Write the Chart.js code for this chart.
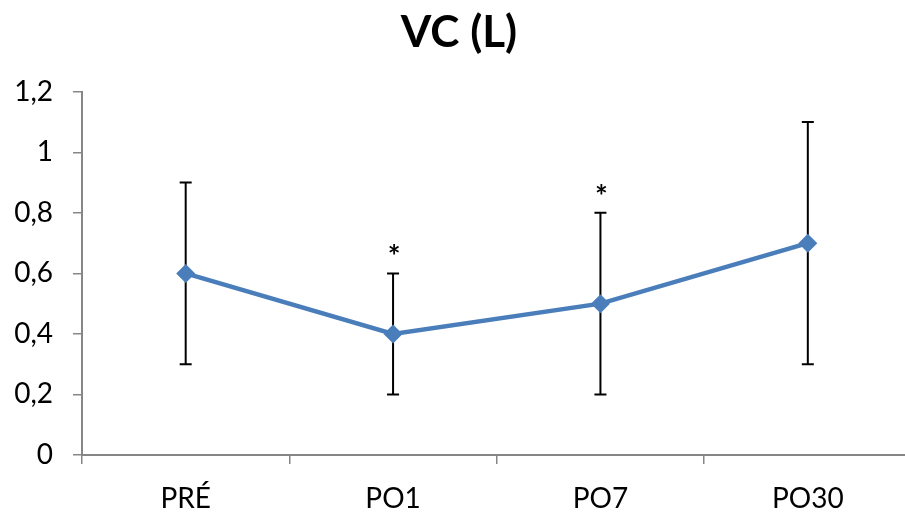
<!DOCTYPE html>
<html>
<head>
<meta charset="utf-8">
<script src="https://cdn.jsdelivr.net/npm/chart.js@4/dist/chart.umd.min.js"></script>
<style>
  html, body { margin: 0; padding: 0; background: #fff; overflow: hidden; }
  #wrap { width: 921px; height: 521px; }
</style>
</head>
<body>
<div id="wrap"><canvas id="c" width="921" height="521"></canvas></div>
<script>
// Vital capacity (L) across the follow-up visits
const categories = ['PRÉ', 'PO1', 'PO7', 'PO30'];
const meanValues = [0.6, 0.4, 0.5, 0.7];
const lowerValues = [0.3, 0.2, 0.2, 0.3];
const upperValues = [0.9, 0.6, 0.8, 1.1];
const significant = [false, true, true, false];
const yTickValues = [0, 0.2, 0.4, 0.6, 0.8, 1, 1.2];

const FONT = 'Lato, Carlito, Calibri, sans-serif';
const AXIS_GREY = '#868686';

// Whiskers with caps, drawn under the line so the markers sit on top
const errorBars = {
  id: 'errorBars',
  beforeDatasetsDraw(chart) {
    const { ctx, scales: { x, y } } = chart;
    ctx.save();
    ctx.strokeStyle = '#000';
    ctx.lineWidth = 2;
    categories.forEach((c, i) => {
      const px = x.getPixelForValue(i);
      const yLo = y.getPixelForValue(lowerValues[i]);
      const yHi = y.getPixelForValue(upperValues[i]);
      ctx.beginPath();
      ctx.moveTo(px, yLo); ctx.lineTo(px, yHi);
      ctx.moveTo(px - 6, yLo); ctx.lineTo(px + 6, yLo);
      ctx.moveTo(px - 6, yHi); ctx.lineTo(px + 6, yHi);
      ctx.stroke();
    });
    ctx.restore();
  },
  // significance markers above the upper whisker
  afterDatasetsDraw(chart) {
    const { ctx, scales: { x, y } } = chart;
    ctx.save();
    ctx.fillStyle = '#000';
    ctx.font = 'bold 30px ' + FONT;
    ctx.textAlign = 'center';
    ctx.textBaseline = 'alphabetic';
    categories.forEach((c, i) => {
      if (!significant[i]) return;
      const px = x.getPixelForValue(i);
      const yHi = y.getPixelForValue(upperValues[i]);
      ctx.fillText('*', px + 1, yHi - 6);
    });
    ctx.restore();
  }
};

new Chart(document.getElementById('c'), {
  type: 'line',
  data: {
    labels: categories,
    datasets: [{
      data: meanValues,
      borderColor: '#4a7ebb',
      backgroundColor: '#4a7ebb',
      borderWidth: 4.5,
      pointStyle: 'rectRot',
      pointRadius: 9.5,
      pointHoverRadius: 9.5,
      pointBorderWidth: 0,
      tension: 0,
      fill: false
    }]
  },
  options: {
    responsive: false,
    animation: false,
    devicePixelRatio: 1,
    layout: { padding: { top: 0, right: 3, left: 0, bottom: 0 } },
    plugins: {
      legend: { display: false },
      tooltip: { enabled: false },
      title: {
        display: true,
        text: 'VC (L)',
        color: '#000',
        font: { family: FONT, size: 44, weight: 'bold' },
        padding: { top: 6, bottom: 33 }
      }
    },
    scales: {
      x: {
        type: 'category',
        offset: true,
        grid: { offset: true, drawOnChartArea: false, drawTicks: true, tickLength: 9, color: AXIS_GREY, lineWidth: 1.5 },
        border: { color: AXIS_GREY, width: 2 },
        ticks: { color: '#000', font: { family: FONT, size: 28 }, padding: 18, maxRotation: 0 },
        afterFit(scale) { scale.height = 66; }
      },
      y: {
        min: 0,
        max: 1.2,
        afterBuildTicks(scale) { scale.ticks = yTickValues.map(v => ({ value: v })); },
        grid: { drawOnChartArea: false, drawTicks: true, tickLength: 9, color: AXIS_GREY, lineWidth: 1.5 },
        border: { color: AXIS_GREY, width: 2 },
        ticks: {
          color: '#000',
          font: { family: FONT, size: 28 },
          padding: 20,
          callback: (v) => String(Math.round(v * 10) / 10).replace('.', ',')
        },
        afterFit(scale) { scale.width = 82; }
      }
    }
  },
  plugins: [errorBars]
});
</script>
</body>
</html>
